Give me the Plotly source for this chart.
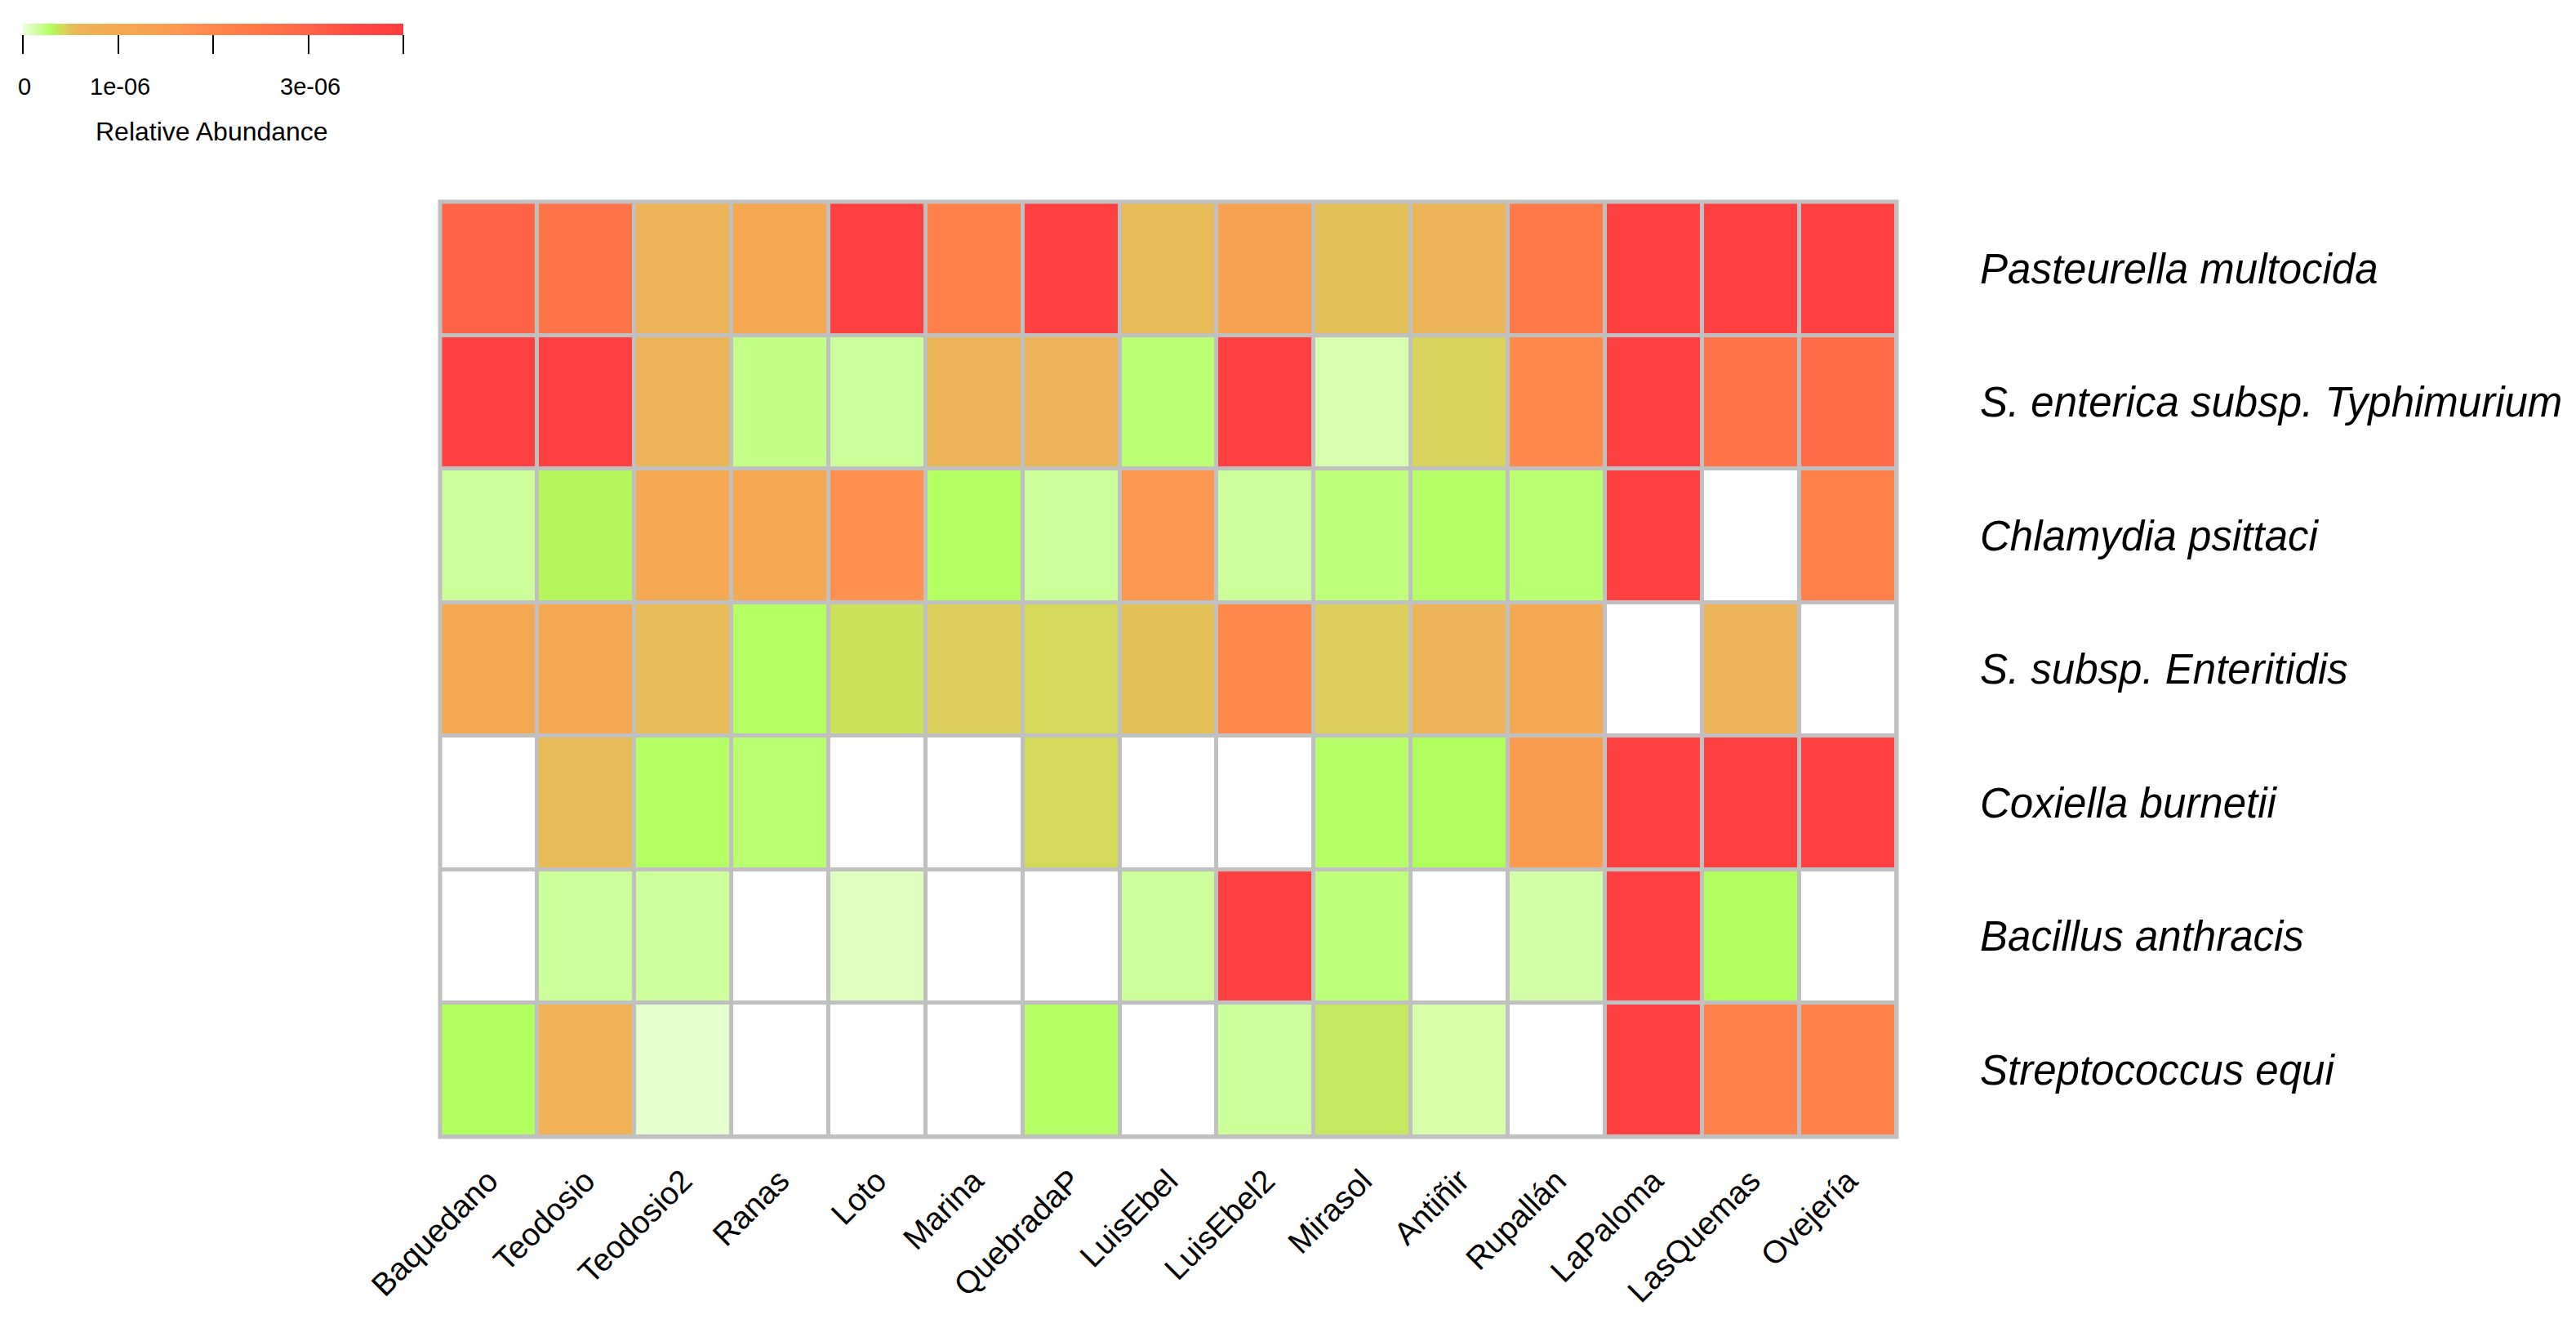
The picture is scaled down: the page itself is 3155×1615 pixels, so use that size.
import numpy as np
import plotly.graph_objects as go

sites = ["Baquedano", "Teodosio", "Teodosio2", "Ranas", "Loto", "Marina", "QuebradaP",
         "LuisEbel", "LuisEbel2", "Mirasol", "Antiñir", "Rupallán", "LaPaloma",
         "LasQuemas", "Ovejería"]

species = ["Pasteurella multocida", "S. enterica subsp. Typhimurium", "Chlamydia psittaci",
           "S. subsp. Enteritidis", "Coxiella burnetii", "Bacillus anthracis",
           "Streptococcus equi"]

# Relative abundance, in units of 1e-06 (None = not detected)
pasteurella   = [3.0, 2.6, 0.62, 1.0, 3.8, 2.2, 3.8, 0.54, 1.3, 0.5, 0.6, 2.4, 3.8, 3.8, 3.8]
typhimurium   = [3.8, 3.8, 0.6, 0.20, 0.16, 0.6, 0.6, 0.24, 3.8, 0.10, 0.44, 2.0, 3.8, 2.6, 2.8]
chlamydia     = [0.16, 0.32, 1.0, 1.0, 1.8, 0.28, 0.16, 1.6, 0.16, 0.23, 0.27, 0.25, 3.8, None, 2.2]
enteritidis   = [1.0, 1.0, 0.54, 0.28, 0.39, 0.45, 0.42, 0.50, 2.0, 0.45, 0.6, 1.0, None, 0.6, None]
coxiella      = [None, 0.54, 0.28, 0.25, None, None, 0.42, None, None, 0.27, 0.30, 1.5, 3.8, 3.8, 3.8]
bacillus      = [None, 0.16, 0.15, None, 0.07, None, None, 0.16, 3.8, 0.23, None, 0.12, 3.8, 0.30, None]
streptococcus = [0.29, 0.75, 0.03, None, None, None, 0.28, None, 0.16, 0.36, 0.11, None, 3.8, 2.2, 2.2]

unit = 1e-6
zmax = 4e-6
tick_values = [0, 1e-6, 2e-6, 3e-6, 4e-6]
tick_labels = ["0", "1e-06", "", "3e-06", ""]
legend_title = "Relative Abundance"

rows = [pasteurella, typhimurium, chlamydia, enteritidis, coxiella, bacillus, streptococcus]
z = np.array([[np.nan if v is None else v * unit for v in r] for r in rows], dtype=float)
mask = np.where(np.isnan(z), 1.0, np.nan)

colorscale = [
    [0.000, "#ecffdc"], [0.020, "#dcffb8"], [0.040, "#ccff99"], [0.060, "#bcff74"],
    [0.075, "#b0ff5c"], [0.090, "#c4e860"], [0.100, "#cfe05c"], [0.112, "#dcd05c"],
    [0.125, "#e4c058"], [0.150, "#ecb458"], [0.250, "#f4a852"], [0.350, "#f8a050"],
    [0.450, "#ff9050"], [0.550, "#ff8048"], [0.650, "#ff7448"], [0.750, "#ff6446"],
    [0.880, "#ff4842"], [0.950, "#ff4040"], [1.000, "#ff3c3c"],
]

# the page body adds an 8 px margin; target pixel positions are corrected for it
OFF = 8
W, H = 3155 - OFF, 1615 - OFF
L, R, T, B = 539, 2323, 247, 1400          # plot area in target pixels
FONT = "Liberation Sans, Arial, sans-serif"

CB_LEFT, CB_TOP, CB_LEN, CB_THICK = 30, 29, 466, 14
CB_XSHIFT = 14                              # empirical offset of the h-colorbar
LABEL_Y, TITLE_Y = 105, 160


def px_to_paper_x(px):
    return (px - L) / (R - L)


def px_to_paper_y(py):
    return (B - py) / (B - T)


fig = go.Figure()
fig.add_trace(go.Heatmap(
    z=mask, x=sites, y=species, colorscale=[[0, "white"], [1, "white"]],
    showscale=False, xgap=5, ygap=5, hoverinfo="skip",
))
fig.add_trace(go.Heatmap(
    z=z, x=sites, y=species, colorscale=colorscale, zmin=0, zmax=zmax,
    xgap=5, ygap=5,
    colorbar=dict(
        orientation="h", xref="container", yref="container",
        x=(CB_LEFT - OFF + CB_XSHIFT) / W, xanchor="left",
        y=1 - (CB_TOP - OFF) / H, yanchor="top",
        len=CB_LEN, lenmode="pixels", thickness=CB_THICK, xpad=0, ypad=0,
        outlinewidth=0, ticks="outside", ticklen=23, tickwidth=2, tickcolor="black",
        tickvals=tick_values, showticklabels=False,
    ),
))

for v, lab in zip(tick_values, tick_labels):
    if lab:
        fig.add_annotation(
            x=px_to_paper_x(CB_LEFT + v / zmax * CB_LEN), y=px_to_paper_y(LABEL_Y),
            xref="paper", yref="paper", text=lab, showarrow=False,
            xanchor="center", yanchor="middle",
            font=dict(family=FONT, size=29, color="black"),
        )
fig.add_annotation(
    x=px_to_paper_x(CB_LEFT + CB_LEN / 2 - 4), y=px_to_paper_y(TITLE_Y),
    xref="paper", yref="paper", text=legend_title, showarrow=False,
    xanchor="center", yanchor="middle",
    font=dict(family=FONT, size=32, color="black"),
)

fig.add_shape(type="rect", xref="paper", yref="paper", x0=0, x1=1, y0=0, y1=1,
              line=dict(color="#c0c0c0", width=5), layer="above")

fig.update_layout(
    width=W, height=H,
    margin=dict(l=L - OFF, r=W - (R - OFF), t=T - OFF, b=H - (B - OFF), pad=0),
    paper_bgcolor="white", plot_bgcolor="#c0c0c0",
    font=dict(family=FONT, color="black"),
    xaxis=dict(tickangle=-45, tickfont=dict(family=FONT, size=39, color="black"),
               showgrid=False, zeroline=False, showline=False, ticks="",
               ticklabelstandoff=22),
    yaxis=dict(side="right", autorange="reversed", showgrid=False, zeroline=False,
               showline=False, ticks="", ticklabelstandoff=101,
               tickfont=dict(family=FONT, size=51, color="black", style="italic")),
)

fig.write_html("out.html")
